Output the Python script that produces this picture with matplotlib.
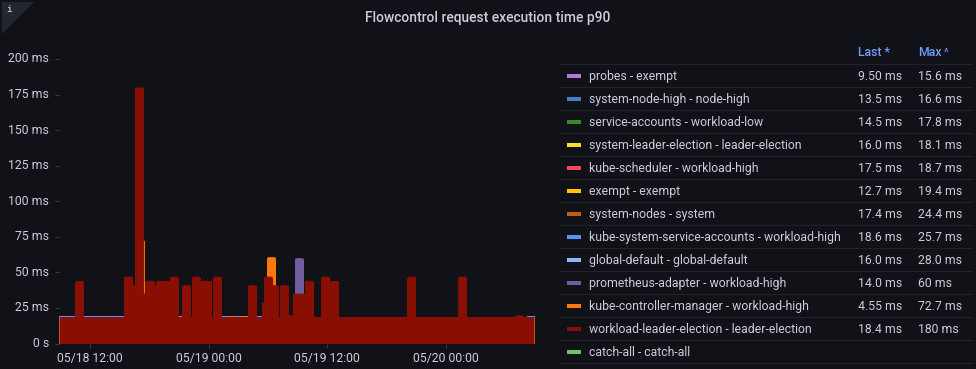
from __future__ import annotations

import matplotlib

matplotlib.use("Agg")
import matplotlib.pyplot as plt
from matplotlib.lines import Line2D
from matplotlib.patches import FancyBboxPatch, Polygon
from matplotlib.transforms import ScaledTranslation

WIDTH = 976
HEIGHT = 369

BG = "#111217"
TEXT = "#ccccdc"
LINK = "#6e9fff"
RULE = "#212329"

# hours relative to 05/18 12:00
START_HOUR = -3.13
END_HOUR = 44.96
BAR_WIDTH = 0.91

y_ticks = [0, 25, 50, 75, 100, 125, 150, 175, 200]
y_tick_labels = ["0 s", "25 ms", "50 ms", "75 ms", "100 ms", "125 ms", "150 ms", "175 ms", "200 ms"]
x_ticks = [0, 12, 24, 36]
x_tick_labels = ["05/18 12:00", "05/19 00:00", "05/19 12:00", "05/20 00:00"]

leader_base = 18.4
leader_hours = [
	-1.06, 3.89, 4.42, 5.0, 5.46, 6.02, 6.12, 6.22, 7.13, 7.63, 8.54, 9.76, 10.77, 11.68, 11.88,
	12.89, 16.43, 17.84, 18.05, 18.65, 19.66, 20.32, 20.98, 21.33, 22.19, 22.34, 23.81, 24.72,
	32.5, 37.66, 43.42,
]
leader_values = [
	44, 47, 41, 180, 35, 44, 44, 41, 44, 44, 47, 41, 47, 44, 44,
	47, 41, 29, 47, 41, 41, 19.8, 35, 35, 44, 19.5, 47, 44,
	47, 47, 19.8,
]
controller_hours = [5.1, 18.35]
controller_values = [72.7, 60.7]
adapter_hours = [21.18]
adapter_values = [60]
system_sa_level = 19.6
system_sa_spans = [(-3.13, 3.44), (13.34, 13.95), (14.66, 15.26), (15.97, 17.39), (44.18, 44.96)]
controller_level = 19.2
controller_spans = [(9.0, 9.3), (13.95, 14.66), (15.26, 15.97)]

legend_names = [
	"probes - exempt",
	"system-node-high - node-high",
	"service-accounts - workload-low",
	"system-leader-election - leader-election",
	"kube-scheduler - workload-high",
	"exempt - exempt",
	"system-nodes - system",
	"kube-system-service-accounts - workload-high",
	"global-default - global-default",
	"prometheus-adapter - workload-high",
	"kube-controller-manager - workload-high",
	"workload-leader-election - leader-election",
	"catch-all - catch-all",
]
legend_last = [
	"9.50 ms", "13.5 ms", "14.5 ms", "16.0 ms", "17.5 ms", "12.7 ms", "17.4 ms",
	"18.6 ms", "16.0 ms", "14.0 ms", "4.55 ms", "18.4 ms", "",
]
legend_max = [
	"15.6 ms", "16.6 ms", "17.8 ms", "18.1 ms", "18.7 ms", "19.4 ms", "24.4 ms",
	"25.7 ms", "28.0 ms", "60 ms", "72.7 ms", "180 ms", "",
]
legend_colors = [
	"#b877d9", "#447ebc", "#37872d", "#fade2a", "#f2495c", "#ffc400", "#c15c17",
	"#5794f2", "#8ab8ff", "#705da0", "#ff780a", "#890f02", "#73bf69",
]


def px(x: float, y: float) -> tuple[float, float]:
	return x / WIDTH, 1 - y / HEIGHT


def rounded_bars(ax, hours, values, color, aspect) -> None:
	# rounded tops; the boxes start below zero so the bottom corners get clipped
	for hour, value in zip(hours, values):
		box = FancyBboxPatch(
			(hour - BAR_WIDTH / 2, -10),
			BAR_WIDTH,
			value + 10,
			boxstyle="round,pad=0,rounding_size=0.2",
			mutation_aspect=aspect,
			facecolor=color,
			edgecolor="none",
			linewidth=0,
		)
		ax.add_patch(box)


def flat_spans(ax, spans, level, color) -> None:
	for start, end in spans:
		ax.bar(start, level, width=end - start, align="edge", color=color, linewidth=0)


def draw_chart(fig) -> None:
	left, top = px(59, 59)
	right, bottom = px(534.8, 343.5)
	ax = fig.add_axes([left, bottom, right - left, top - bottom])
	ax.set_facecolor(BG)
	ax.set_xlim(START_HOUR, END_HOUR)
	ax.set_ylim(0, 200)
	for spine in ax.spines.values():
		spine.set_visible(False)

	ax.set_xticks(x_ticks, x_tick_labels)
	ax.set_yticks(y_ticks, y_tick_labels)
	ax.tick_params(axis="both", length=3, width=0.7, color="#3a3d44", labelcolor=TEXT, labelsize=8.8)
	ax.tick_params(axis="x", pad=3.3)
	ax.tick_params(axis="y", pad=4)
	# tick labels sit a little above their ticks
	nudge = ScaledTranslation(0, 1.5 / 100, fig.dpi_scale_trans)
	for label in ax.get_yticklabels():
		label.set_transform(label.get_transform() + nudge)

	hours_per_px = (END_HOUR - START_HOUR) / 475.8
	ms_per_px = 200 / 284.5
	aspect = ms_per_px / hours_per_px

	flat_spans(ax, system_sa_spans, system_sa_level, legend_colors[7])
	flat_spans(ax, controller_spans, controller_level, legend_colors[10])
	flat_spans(ax, [(START_HOUR, END_HOUR)], leader_base, "#b4570f")
	rounded_bars(ax, adapter_hours, adapter_values, legend_colors[9], aspect)
	rounded_bars(ax, controller_hours, controller_values, legend_colors[10], aspect)
	flat_spans(ax, [(START_HOUR + 0.08, END_HOUR - 0.08)], leader_base, legend_colors[11])
	rounded_bars(ax, leader_hours, leader_values, legend_colors[11], aspect)


def draw_legend(fig) -> None:
	header_y = 52.5
	fig.text(*px(858, header_y), "Last *", color=LINK, fontsize=8.8, weight="medium", va="center")
	fig.text(*px(918, header_y), "Max", color=LINK, fontsize=8.8, weight="medium", va="center")
	fig.text(*px(944, header_y + 1), "^", color=LINK, fontsize=8, va="center")

	for row, name in enumerate(legend_names):
		y = 76 + row * 23
		rule_x0, rule_y = px(559, y - 11.7)
		rule_x1, _ = px(972, y - 11.7)
		fig.add_artist(Line2D([rule_x0, rule_x1], [rule_y, rule_y], color=RULE, linewidth=0.8))
		sx0, sy = px(567, y)
		sx1, _ = px(581, y)
		fig.add_artist(
			Line2D([sx0, sx1], [sy, sy], color=legend_colors[row], linewidth=2.9, solid_capstyle="butt")
		)
		fig.text(*px(589, y + 0.5), name, color=TEXT, fontsize=8.8, va="center")
		fig.text(*px(858, y + 0.5), legend_last[row], color=TEXT, fontsize=8.8, va="center")
		fig.text(*px(918, y + 0.5), legend_max[row], color=TEXT, fontsize=8.8, va="center")
	end_x0, end_y = px(559, 76 + 13 * 23 - 11.7)
	end_x1, _ = px(972, 76 + 13 * 23 - 11.7)
	fig.add_artist(Line2D([end_x0, end_x1], [end_y, end_y], color=RULE, linewidth=0.8))


def main() -> None:
	plt.rcParams["font.family"] = ["Roboto", "DejaVu Sans"]
	fig = plt.figure(figsize=(WIDTH / 100, HEIGHT / 100), dpi=100, facecolor=BG)

	fig.add_artist(Polygon([px(2, 2), px(34, 2), px(2, 34)], closed=True, facecolor="#23262c", edgecolor="none"))
	fig.text(*px(9.5, 10), "i", color="#a9adb4", fontsize=6.5, weight="bold", family="DejaVu Sans Mono", ha="center", va="center")
	fig.text(*px(488, 18), "Flowcontrol request execution time p90", color=TEXT, fontsize=10, weight="medium", ha="center", va="center")

	draw_chart(fig)
	draw_legend(fig)

	fig.savefig("out.png", dpi=100, facecolor=BG)
	plt.close(fig)


if __name__ == "__main__":
	main()
